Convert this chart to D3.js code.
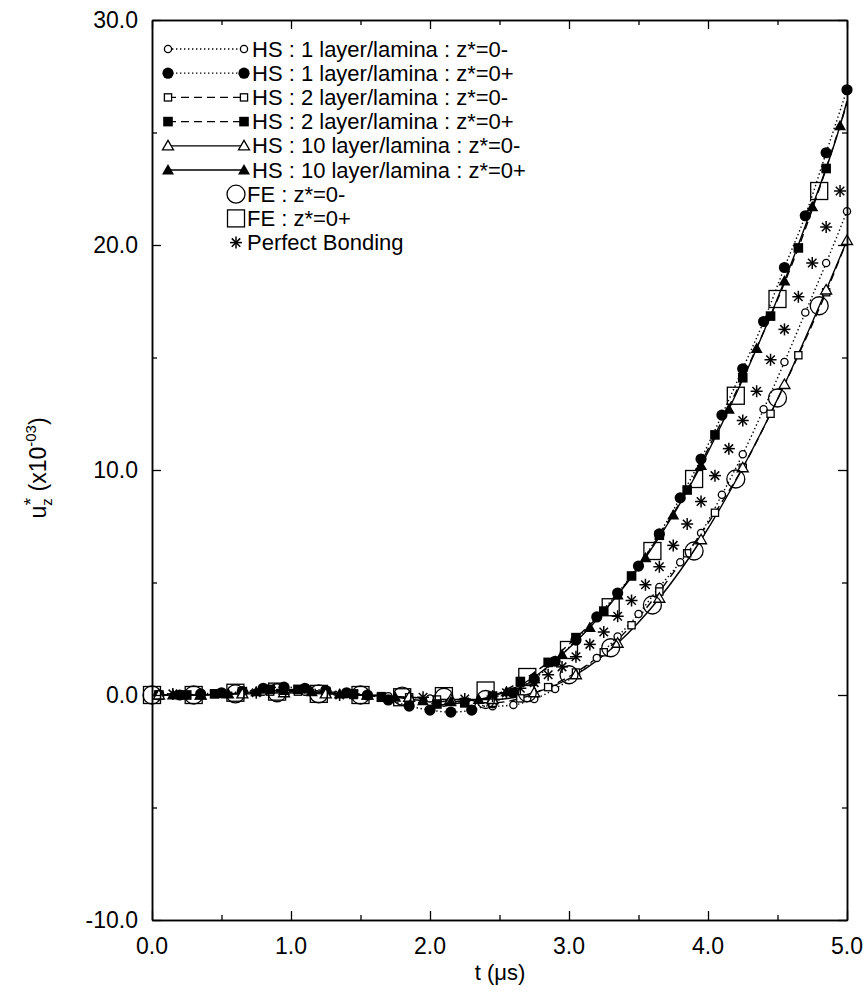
<!DOCTYPE html>
<html><head><meta charset="utf-8">
<script src="https://cdn.jsdelivr.net/npm/d3@7"></script>
<style>body{margin:0;background:#fff}svg{display:block}text{font-family:"Liberation Sans",Arial,sans-serif;fill:#000}</style>
</head><body><svg id="c" width="864" height="993"></svg>
<script>
// ---- data (t in microseconds, u in 1e-3) ----
const xTicks = [0, 1, 2, 3, 4, 5];
const xMinor = [0.5, 1.5, 2.5, 3.5, 4.5];
const yTicks = [-10, 0, 10, 20, 30];
const yMinor = [-5, 5, 15, 25];

const tA = [0.05,0.2,0.35,0.5,0.65,0.8,0.95,1.1,1.25,1.4,1.55,1.7,1.85,2.0,2.15,2.3,2.45,2.6,2.75,2.9,3.05,3.2,3.35,3.5,3.65,3.8,3.95,4.1,4.25,4.4,4.55,4.7,4.85,5.0];
const uHS1minus = [0.0,0.0,0.0,0.05,0.1,0.15,0.2,0.15,0.1,0.05,0.0,-0.05,-0.1,-0.15,-0.25,-0.4,-0.5,-0.44,-0.18,0.27,0.9,1.65,2.6,3.6,4.8,5.9,7.2,8.9,10.7,12.7,14.8,17.0,19.2,21.5];
const uHS1plus  = [0.0,0.0,0.05,0.1,0.15,0.3,0.35,0.3,0.2,0.1,0.0,-0.22,-0.49,-0.67,-0.76,-0.67,-0.35,0.1,0.71,1.5,2.44,3.47,4.53,5.73,7.16,8.76,10.49,12.44,14.5,16.6,19.0,21.3,24.1,26.9];

const tB = [0.05,0.25,0.45,0.65,0.85,1.05,1.25,1.45,1.65,1.85,2.05,2.25,2.45,2.65,2.85,3.05,3.25,3.45,3.65,3.85,4.05,4.25,4.45,4.65,4.85,5.0];
const uHS2minus = [0,0,0.05,0.1,0.15,0.15,0.1,0.0,-0.05,-0.1,-0.2,-0.3,-0.35,-0.15,0.35,1.0,1.9,3.1,4.6,6.3,8.1,10.1,12.5,15.1,17.9,20.2];
const uHS2plus  = [0.0,0.0,0.05,0.15,0.25,0.25,0.15,0.05,-0.1,-0.3,-0.4,-0.35,-0.05,0.6,1.45,2.55,3.73,5.29,7.1,9.11,11.56,14.1,16.84,19.87,23.4,26.3];

const tC = [0.15,0.35,0.55,0.75,0.95,1.15,1.35,1.55,1.75,1.95,2.15,2.35,2.55,2.75,2.95,3.15,3.35,3.55,3.75,3.95,4.15,4.35,4.55,4.75,4.95,5.0];
const uHS10plus = [0.0,0.0,0.05,0.15,0.2,0.15,0.05,0.0,-0.1,-0.25,-0.3,-0.2,0.15,0.8,1.8,3.0,4.45,6.1,8.0,10.2,12.7,15.4,18.4,21.7,25.3,26.4];

const tD = [0.05,0.35,0.65,0.95,1.25,1.55,1.85,2.15,2.45,2.75,3.05,3.35,3.65,3.95,4.25,4.55,4.85,5.0];
const uHS10minus = [0,0,0.05,0.1,0.05,0,-0.1,-0.2,-0.2,0.1,0.9,2.3,4.3,6.9,10.1,13.8,18.0,20.2];

const tE = [0,0.3,0.6,0.9,1.2,1.5,1.8,2.1,2.4,2.7,3.0,3.3,3.6,3.9,4.2,4.5,4.8];
const uFEminus = [0,0,0.05,0.1,0.05,0,-0.05,-0.1,-0.2,0.1,0.9,2.1,4.0,6.4,9.6,13.2,17.3];
const uFEplus  = [0,0,0.1,0.15,0.05,0,-0.1,-0.05,0.2,0.8,2.0,3.9,6.4,9.6,13.3,17.6,22.4];

const tPB = [0.15,0.75,1.35,1.95,2.25,2.45,2.55,2.65,2.75,2.85,2.95,3.05,3.15,3.25,3.35,3.45,3.55,3.65,3.75,3.85,3.95,4.05,4.15,4.25,4.35,4.45,4.55,4.65,4.75,4.85,4.95];
const uPB = [0.05,0.1,0.0,-0.1,-0.18,-0.05,0.1,0.3,0.55,0.9,1.25,1.7,2.25,2.8,3.5,4.2,4.9,5.7,6.65,7.6,8.6,9.75,10.95,12.2,13.5,14.9,16.25,17.7,19.2,20.8,22.4];

const legendLabels = [
  "HS : 1 layer/lamina : z*=0-",
  "HS : 1 layer/lamina : z*=0+",
  "HS : 2 layer/lamina : z*=0-",
  "HS : 2 layer/lamina : z*=0+",
  "HS : 10 layer/lamina : z*=0-",
  "HS : 10 layer/lamina : z*=0+",
  "FE : z*=0-",
  "FE : z*=0+",
  "Perfect Bonding"
];

// ---- series definitions ----
const series = [
  {t:tA, u:uHS1minus, line:"dot",  mk:"circleSmall"},
  {t:tA, u:uHS1plus,  line:"dot",  mk:"circleFilled"},
  {t:tB, u:uHS2minus, line:"dash", mk:"squareSmall", skipEnd:true},
  {t:tB, u:uHS2plus,  line:"dash", mk:"squareFilled", skipEnd:true},
  {t:tD, u:uHS10minus,line:"solid",mk:"triOpen"},
  {t:tC, u:uHS10plus, line:"solid",mk:"triFilled", skipEnd:true},
  {t:tE, u:uFEminus,  line:null,   mk:"circleBig"},
  {t:tE, u:uFEplus,   line:null,   mk:"squareBig"},
  {t:tPB,u:uPB,       line:null,   mk:"star"}
];

const svg = d3.select("#c");
const x = d3.scaleLinear().domain([0,5]).range([152,847]);
const y = d3.scaleLinear().domain([-10,30]).range([920,20]);

const dashes = {dot:"1.4,2.6", dash:"8,5", solid:null};

function drawMarker(g, type, cx, cy){
  const sw = 1.3;
  switch(type){
    case "circleSmall": g.append("circle").attr("cx",cx).attr("cy",cy).attr("r",3.6).attr("fill","#fff").attr("stroke","#000").attr("stroke-width",sw); break;
    case "circleFilled": g.append("circle").attr("cx",cx).attr("cy",cy).attr("r",5.6).attr("fill","#000"); break;
    case "squareSmall": g.append("rect").attr("x",cx-3.6).attr("y",cy-3.6).attr("width",7.2).attr("height",7.2).attr("fill","#fff").attr("stroke","#000").attr("stroke-width",sw); break;
    case "squareFilled": g.append("rect").attr("x",cx-4.8).attr("y",cy-4.8).attr("width",9.6).attr("height",9.6).attr("fill","#000"); break;
    case "triOpen": g.append("path").attr("d",`M${cx},${cy-5.5}L${cx+5.5},${cy+4}L${cx-5.5},${cy+4}Z`).attr("fill","#fff").attr("stroke","#000").attr("stroke-width",sw); break;
    case "triFilled": g.append("path").attr("d",`M${cx},${cy-6}L${cx+6},${cy+4.5}L${cx-6},${cy+4.5}Z`).attr("fill","#000"); break;
    case "circleBig": g.append("circle").attr("cx",cx).attr("cy",cy).attr("r",9).attr("fill","none").attr("stroke","#000").attr("stroke-width",sw); break;
    case "squareBig": g.append("rect").attr("x",cx-8.5).attr("y",cy-8.5).attr("width",17).attr("height",17).attr("fill","none").attr("stroke","#000").attr("stroke-width",sw); break;
    case "star": {
      const r = 6;
      for (let k=0;k<4;k++){
        const a = k*Math.PI/4;
        g.append("line").attr("x1",cx-r*Math.cos(a)).attr("y1",cy-r*Math.sin(a))
          .attr("x2",cx+r*Math.cos(a)).attr("y2",cy+r*Math.sin(a))
          .attr("stroke","#000").attr("stroke-width",1.5);
      }
    } break;
  }
}

// ---- lines ----
const lineGen = d3.line().x(d=>x(d[0])).y(d=>y(d[1])).curve(d3.curveMonotoneX);
const gLines = svg.append("g");
series.forEach(s=>{
  if(!s.line) return;
  const pts = s.t.map((t,i)=>[t,s.u[i]]);
  gLines.append("path").attr("d",lineGen(pts)).attr("fill","none").attr("stroke","#000")
    .attr("stroke-width",1.4).attr("stroke-dasharray",dashes[s.line]);
});
// ---- markers ----
const gMk = svg.append("g");
series.forEach(s=>{
  s.t.forEach((t,i)=>{
    if(s.skipEnd && i===s.t.length-1) return;
    drawMarker(gMk, s.mk, x(t), y(s.u[i]));
  });
});

// ---- axes / frame ----
const fmt = v => d3.format(".1f")(v).replace("\u2212","-");
function ax(gen, tr, vals, size){
  const g = svg.append("g").attr("transform",tr)
    .call(gen.tickValues(vals).tickSize(size).tickSizeOuter(0).tickFormat(""));
  g.select(".domain").attr("stroke","#000").attr("stroke-width",1.5);
  g.selectAll(".tick line").attr("stroke","#000").attr("stroke-width",1.3);
  g.selectAll("text").remove();
  return g;
}
ax(d3.axisBottom(x), "translate(0,920)", xTicks, -9);
ax(d3.axisBottom(x), "translate(0,920)", xMinor, -5);
ax(d3.axisTop(x), "translate(0,20)", xTicks, -9);
ax(d3.axisTop(x), "translate(0,20)", xMinor, -5);
ax(d3.axisLeft(y), "translate(152,0)", yTicks, -9);
ax(d3.axisLeft(y), "translate(152,0)", yMinor, -5);
ax(d3.axisRight(y), "translate(847,0)", yTicks, -9);
ax(d3.axisRight(y), "translate(847,0)", yMinor, -5);

// tick labels
svg.append("g").selectAll("text").data(xTicks).join("text")
  .attr("x",d=>x(d)).attr("y",946).attr("text-anchor","middle").attr("dominant-baseline","central")
  .attr("font-size",23).text(d=>fmt(d));
svg.append("g").selectAll("text").data(yTicks).join("text")
  .attr("x",138).attr("y",d=>y(d)).attr("text-anchor","end").attr("dominant-baseline","central")
  .attr("font-size",23).text(d=>fmt(d));

// axis titles
svg.append("text").attr("x",500).attr("y",972).attr("text-anchor","middle").attr("dominant-baseline","central")
  .attr("font-size",22).text("t (μs)");
const yl = svg.append("text").attr("transform","translate(46,468) rotate(-90)").attr("text-anchor","middle").attr("font-size",23);
yl.append("tspan").text("u");
yl.append("tspan").attr("font-size",15).attr("dy",6).text("z");
yl.append("tspan").attr("font-size",19).attr("dx",-7).attr("dy",-15).text("*");
yl.append("tspan").attr("dy",9).text(" (x10");
yl.append("tspan").attr("font-size",15).attr("dy",-10).text("-03");
yl.append("tspan").attr("dy",10).text(")");

// ---- legend ----
const lg = svg.append("g");
const rowY0 = 49, rowDy = 24.2;
legendLabels.forEach((lab,i)=>{
  const s = series[i], yy = rowY0 + i*rowDy;
  if(s.line){
    lg.append("line").attr("x1",168).attr("x2",244).attr("y1",yy).attr("y2",yy)
      .attr("stroke","#000").attr("stroke-width",1.3).attr("stroke-dasharray",dashes[s.line]);
    drawMarker(lg, s.mk, 168, yy);
    drawMarker(lg, s.mk, 244, yy);
    lg.append("text").attr("x",252).attr("y",yy).attr("dominant-baseline","central").attr("font-size",22).text(lab);
  } else {
    drawMarker(lg, s.mk, 236, yy);
    lg.append("text").attr("x",247).attr("y",yy).attr("dominant-baseline","central").attr("font-size",22).text(lab);
  }
});
</script></body></html>
